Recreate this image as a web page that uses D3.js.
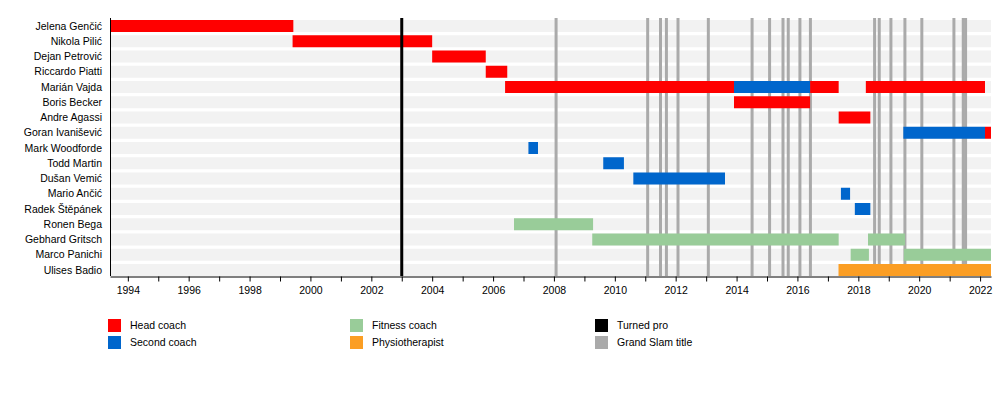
<!DOCTYPE html>
<html>
<head>
<meta charset="utf-8">
<script src="https://cdnjs.cloudflare.com/ajax/libs/d3/7.8.5/d3.min.js"></script>
<style>
  html, body { margin: 0; padding: 0; background: #fff; }
  svg { display: block; font-family: "Liberation Sans", Arial, sans-serif; }
</style>
</head>
<body>
<svg id="chart" width="1000" height="396"></svg>
<script>
// ---- data ----
const coaches = [
  "Jelena Genčić", "Nikola Pilić", "Dejan Petrović", "Riccardo Piatti",
  "Marián Vajda", "Boris Becker", "Andre Agassi", "Goran Ivanišević",
  "Mark Woodforde", "Todd Martin", "Dušan Vemić", "Mario Ančić",
  "Radek Štěpánek", "Ronen Bega", "Gebhard Gritsch", "Marco Panichi",
  "Ulises Badio"
];
const periodStart = "1993-06-01";
const periodEnd = "2022-05-12";

const headCoachPeriods = [
  ["Jelena Genčić", "1993-06-01", "1999-06-10"],
  ["Nikola Pilić", "1999-06-01", "2004-01-01"],
  ["Dejan Petrović", "2004-01-01", "2005-10-05"],
  ["Riccardo Piatti", "2005-10-05", "2006-06-20"],
  ["Marián Vajda", "2006-05-25", "2013-12-01"],
  ["Marián Vajda", "2016-06-01", "2017-05-10"],
  ["Marián Vajda", "2018-04-01", "2022-03-01"],
  ["Boris Becker", "2013-12-01", "2016-06-01"],
  ["Andre Agassi", "2017-05-10", "2018-05-25"],
  ["Goran Ivanišević", "2022-03-01", "2022-05-12"]
];
const secondCoachPeriods = [
  ["Marián Vajda", "2013-12-01", "2016-06-01"],
  ["Goran Ivanišević", "2019-06-25", "2022-03-01"],
  ["Mark Woodforde", "2007-03-01", "2007-06-24"],
  ["Todd Martin", "2009-08-15", "2010-04-20"],
  ["Dušan Vemić", "2010-08-11", "2013-08-15"],
  ["Mario Ančić", "2017-06-06", "2017-09-24"],
  ["Radek Štěpánek", "2017-11-20", "2018-05-25"]
];
const fitnessCoachPeriods = [
  ["Ronen Bega", "2006-09-09", "2009-04-15"],
  ["Gebhard Gritsch", "2009-04-05", "2017-05-10"],
  ["Gebhard Gritsch", "2018-04-27", "2019-07-16"],
  ["Marco Panichi", "2017-10-01", "2018-05-08"],
  ["Marco Panichi", "2019-07-01", "2022-05-12"]
];
const physiotherapistPeriods = [
  ["Ulises Badio", "2017-05-08", "2022-05-12"]
];
const turnedPro = "2003-01-01";
const grandSlamTitles = [
  "2008-01-27", "2011-01-30", "2011-07-03", "2011-09-12", "2012-01-29",
  "2013-01-27", "2014-07-06", "2015-02-01", "2015-07-12", "2015-09-13",
  "2016-01-31", "2016-06-05", "2018-07-15", "2018-09-09", "2019-01-27",
  "2019-07-14", "2020-02-02", "2021-02-21", "2021-06-13", "2021-07-11"
];
const tickYears = d3.range(1994, 2023);
const legendItems = [
  ["Head coach", "head"], ["Second coach", "second"],
  ["Fitness coach", "fitness"], ["Physiotherapist", "physio"],
  ["Turned pro", "pro"], ["Grand Slam title", "slam"]
];

// ---- styles ----
const colors = {
  head: "#ff0000", second: "#0066cc", fitness: "#99cc99",
  physio: "#fb9e24", pro: "#000000", slam: "#aaaaaa"
};

const parse = d3.timeParse("%Y-%m-%d");
const svg = d3.select("#chart");
const plotLeft = 110, plotRight = 991, plotTop = 20, plotBottom = 276;
const fontSize = 10.5;

const x = d3.scaleTime().domain([parse(periodStart), parse(periodEnd)]).range([plotLeft, plotRight]);
const y = d3.scaleBand().domain(coaches).range([plotTop, plotBottom]).paddingInner(0.213).paddingOuter(0);

// background bands
svg.append("g").selectAll("rect").data(coaches).join("rect")
  .attr("x", plotLeft).attr("width", plotRight - plotLeft)
  .attr("y", d => y(d)).attr("height", y.bandwidth())
  .attr("fill", "#f2f2f2");

// grand slam lines
svg.append("g").selectAll("line").data(grandSlamTitles).join("line")
  .attr("x1", d => x(parse(d))).attr("x2", d => x(parse(d)))
  .attr("y1", plotTop - 2).attr("y2", plotBottom)
  .attr("stroke", colors.slam).attr("stroke-width", 3);

// bars
const groups = [
  [headCoachPeriods, "head"], [secondCoachPeriods, "second"],
  [fitnessCoachPeriods, "fitness"], [physiotherapistPeriods, "physio"]
];
groups.forEach(([rows, key]) => {
  svg.append("g").selectAll("rect").data(rows).join("rect")
    .attr("x", d => x(parse(d[1])))
    .attr("width", d => x(parse(d[2])) - x(parse(d[1])))
    .attr("y", d => y(d[0])).attr("height", y.bandwidth())
    .attr("fill", colors[key]);
});

// turned pro line
svg.append("line")
  .attr("x1", x(parse(turnedPro))).attr("x2", x(parse(turnedPro)))
  .attr("y1", plotTop - 2).attr("y2", plotBottom)
  .attr("stroke", colors.pro).attr("stroke-width", 3);

// left axis line
svg.append("line").attr("x1", plotLeft + 0.5).attr("x2", plotLeft + 0.5)
  .attr("y1", plotTop - 2).attr("y2", plotBottom).attr("stroke", "#000").attr("stroke-width", 1);

// names
svg.append("g").selectAll("text").data(coaches).join("text")
  .attr("x", 102).attr("y", d => y(d) + y.bandwidth() / 2)
  .attr("dy", "0.35em").attr("text-anchor", "end")
  .attr("font-size", fontSize).attr("fill", "#000").text(d => d);

// x axis
const xAxis = d3.axisBottom(x)
  .tickValues(tickYears.map(yr => new Date(yr, 0, 1)))
  .tickFormat(d => d.getFullYear() % 2 === 0 ? d.getFullYear() : "")
  .tickSize(5).tickSizeOuter(0);
const ax = svg.append("g").attr("transform", `translate(0,${plotBottom + 0.5})`).call(xAxis);
ax.select(".domain").attr("stroke", "#000");
ax.selectAll(".tick line").attr("stroke", "#000");
ax.selectAll(".tick text").attr("font-size", fontSize).attr("fill", "#000")
  .attr("font-family", "Liberation Sans, Arial, sans-serif").attr("y", 10);

// legend
const legendCols = [108, 350, 595];
const legendRows = [319, 336];
const lg = svg.append("g").selectAll("g").data(legendItems).join("g")
  .attr("transform", (d, i) => `translate(${legendCols[Math.floor(i / 2)]},${legendRows[i % 2]})`);
lg.append("rect").attr("width", 13).attr("height", 13).attr("fill", d => colors[d[1]]);
lg.append("text").attr("x", 22).attr("y", 6.5).attr("dy", "0.35em")
  .attr("font-size", fontSize).attr("fill", "#000").text(d => d[0]);
</script>
</body>
</html>
